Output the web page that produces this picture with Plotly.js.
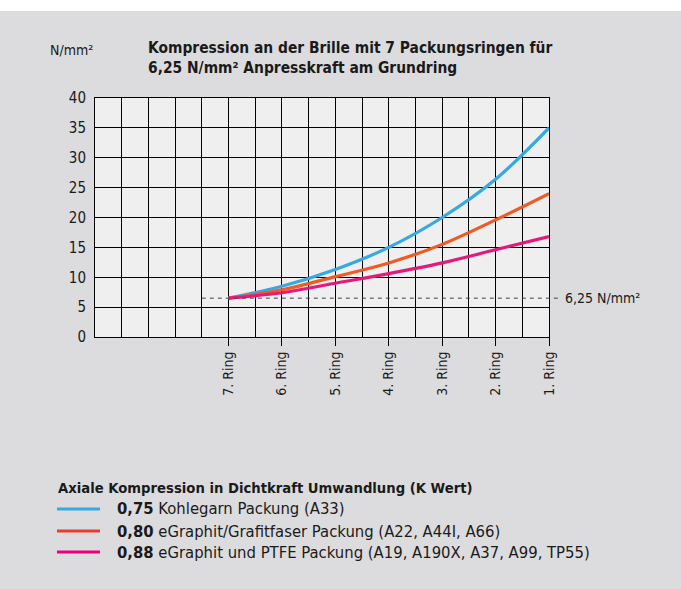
<!DOCTYPE html>
<html>
<head>
<meta charset="utf-8">
<script src="https://cdn.plot.ly/plotly-3.0.1.min.js"></script>
<style>
  html, body { margin: 0; padding: 0; background: #ffffff; }
  #chart { width: 681px; height: 589px; }
</style>
</head>
<body>
<div id="chart"></div>
<script>
// ---- data ----
var ringPos = [5, 7, 9, 11, 13, 15, 17];
var ringLabels = ['7. Ring', '6. Ring', '5. Ring', '4. Ring', '3. Ring', '2. Ring', '1. Ring'];
var kohlegarn = [6.5, 8.5, 11.3, 15.0, 20.0, 26.4, 35.0];
var egraphit = [6.5, 7.9, 10.1, 12.4, 15.5, 19.6, 24.0];
var egraphitPtfe = [6.5, 7.4, 9.0, 10.6, 12.4, 14.6, 16.8];
var seriesKWert = ['0,75', '0,80', '0,88'];
var seriesNames = ['Kohlegarn Packung (A33)', 'eGraphit/Grafitfaser Packung (A22, A44I, A66)', 'eGraphit und PTFE Packung (A19, A190X, A37, A99, TP55)'];
var refLevel = 6.5;
var refLabel = '6,25 N/mm²';
var yMax = 40;
var xMax = 17;

var colors = ['#35a9e1', '#f05a24', '#e6197b'];
var legendColors = ['#35a9e1', '#ee3a2c', '#e6007e'];
var FONT = '"Liberation Sans Narrow", "DejaVu Sans Condensed", "Roboto Condensed", sans-serif';
var ink = '#1a1a1a';

var ys = [kohlegarn, egraphit, egraphitPtfe];
var traces = ys.map(function (y, i) {
  return {
    x: ringPos, y: y, type: 'scatter', mode: 'lines',
    line: {color: colors[i], width: 3.2, shape: 'spline', smoothing: 1},
    showlegend: false, hoverinfo: 'skip'
  };
});

// plot area geometry for paper-coordinate helpers
var L = 95, R = 132, T = 98, B = 252, W = 681, H = 589;
var pw = W - L - R, ph = H - T - B;
function px2x(px) { return (px - L) / pw; }
function py2y(py) { return (H - B - py) / ph; }

var shapes = [
  {type: 'rect', xref: 'paper', yref: 'paper', x0: px2x(0), x1: px2x(W), y0: py2y(0), y1: py2y(11),
   fillcolor: '#ffffff', line: {width: 0}, layer: 'below'},
  {type: 'line', xref: 'paper', yref: 'paper', x0: 4 / xMax, x1: px2x(560),
   y0: refLevel / yMax, y1: refLevel / yMax, line: {color: '#444', width: 1, dash: '4px,4px'}}
];

var annotations = [
  {xref: 'paper', yref: 'paper', x: px2x(95), y: py2y(50), xanchor: 'right', yanchor: 'middle',
   text: 'N/mm²', showarrow: false, font: {family: FONT, size: 14, color: ink}},
  {xref: 'paper', yref: 'paper', x: px2x(563), y: refLevel / yMax, xanchor: 'left', yanchor: 'middle',
   text: refLabel, showarrow: false, font: {family: FONT, size: 14, color: ink}},
  {xref: 'paper', yref: 'paper', x: px2x(56), y: py2y(487), xanchor: 'left', yanchor: 'middle',
   text: '<b>Axiale Kompression in Dichtkraft Umwandlung (K Wert)</b>', showarrow: false,
   font: {family: FONT, size: 14.7, color: ink}}
];

var rowY = [509, 531, 552];
for (var i = 0; i < 3; i++) {
  shapes.push({type: 'line', xref: 'paper', yref: 'paper', x0: px2x(57), x1: px2x(100),
    y0: py2y(rowY[i]), y1: py2y(rowY[i]), line: {color: legendColors[i], width: 3}});
  annotations.push({xref: 'paper', yref: 'paper', x: px2x(115), y: py2y(rowY[i]), xanchor: 'left', yanchor: 'middle',
    text: '<b>' + seriesKWert[i] + '</b> ' + seriesNames[i], showarrow: false,
    font: {family: FONT, size: 16.5, color: ink}});
}

var layout = {
  width: W, height: H,
  margin: {l: L, r: R, t: T, b: B, pad: 0},
  paper_bgcolor: '#dcdcde',
  plot_bgcolor: '#efefef',
  font: {family: FONT, color: ink},
  title: {
    text: '<b>Kompression an der Brille mit 7 Packungsringen für<br>6,25 N/mm² Anpresskraft am Grundring</b>',
    xref: 'container', yref: 'container', x: 148 / W, xanchor: 'left', y: 1 - 53 / H, yanchor: 'top',
    font: {family: FONT, size: 15.4, color: ink}
  },
  xaxis: {
    range: [0, xMax], tickvals: ringPos, ticktext: ringLabels, tickangle: -90,
    ticks: 'outside', ticklen: 8, tickcolor: '#000', tickwidth: 1,
    showgrid: true, gridcolor: '#000', gridwidth: 1,
    minor: {tick0: 0, dtick: 1, showgrid: true, gridcolor: '#000', gridwidth: 1, ticks: ''},
    showline: true, linecolor: '#000', linewidth: 1, mirror: true, zeroline: false,
    tickfont: {family: FONT, size: 14, color: ink}, fixedrange: true
  },
  yaxis: {
    range: [0, yMax], dtick: 5, tick0: 0,
    ticks: 'outside', ticklen: 5, tickcolor: 'rgba(0,0,0,0)',
    showgrid: true, gridcolor: '#000', gridwidth: 1,
    showline: true, linecolor: '#000', linewidth: 1, mirror: true, zeroline: false,
    tickfont: {family: FONT, size: 15, color: ink}, fixedrange: true
  },
  shapes: shapes,
  annotations: annotations,
  showlegend: false
};

Plotly.newPlot('chart', traces, layout, {displayModeBar: false, staticPlot: true});
</script>
</body>
</html>
